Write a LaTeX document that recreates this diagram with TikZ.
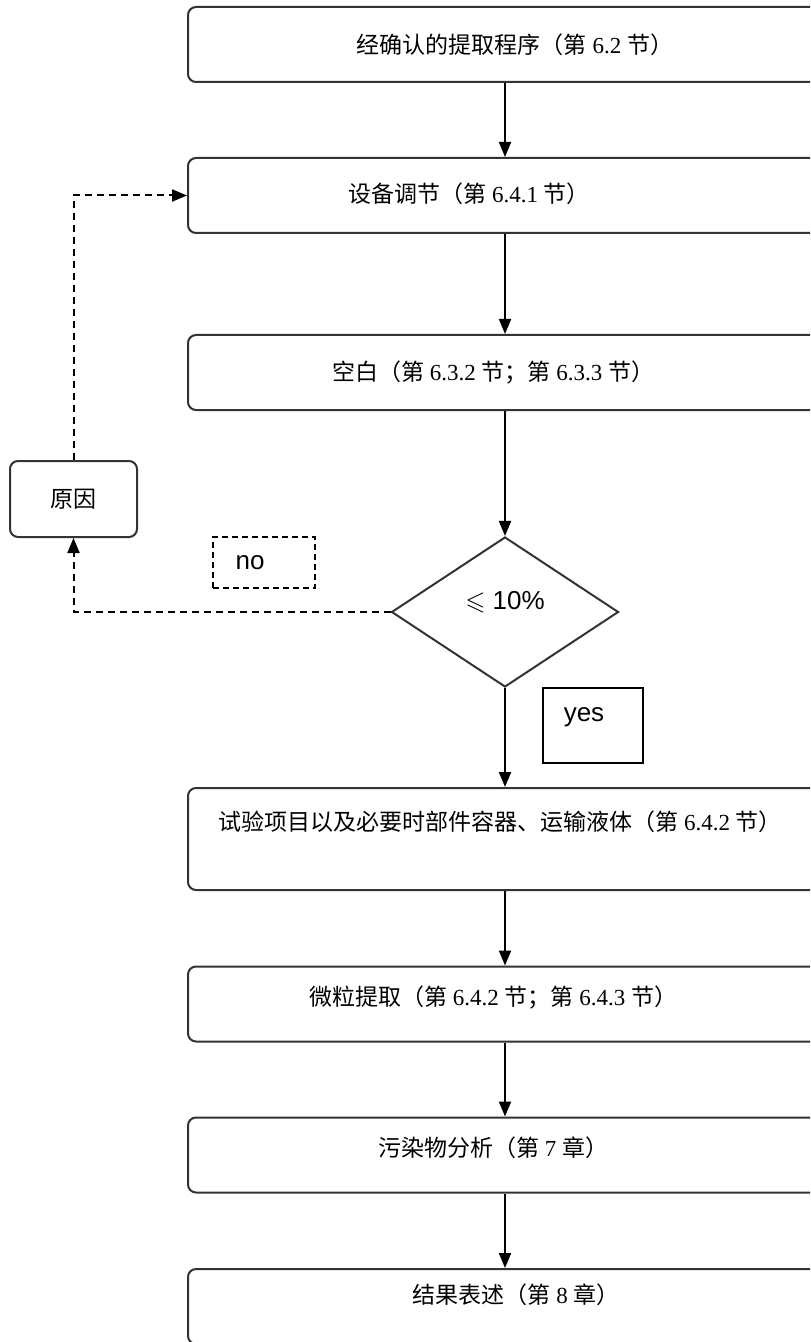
\documentclass[tikz,border=0pt]{standalone}
\usepackage{fontspec}
\setmainfont{Liberation Serif}
\newfontfamily\cjk{Noto Sans CJK SC}
\newfontfamily\arialfont{Liberation Sans}
\usepackage{amssymb}
\usetikzlibrary{shapes,arrows.meta,positioning}
\definecolor{linegray}{gray}{0.2}
\tikzset{%
    procbox/.style={%
        rectangle, rounded corners=4pt, draw=linegray, line width=1pt, minimum width=317pt, minimum height=37.5pt, inner sep=0pt
    },
    boxtext/.style={%
        font=\fontsize{11.5pt}{14pt}\selectfont
    },
    decision/.style={%
        diamond, aspect=1.5, draw=linegray, line width=1pt, minimum width=113.5pt, minimum height=75pt, inner sep=0pt
    },
    sanstext/.style={%
        font=\arialfont\fontsize{13pt}{15pt}\selectfont
    },
    cause/.style={%
        rectangle, rounded corners=4pt, draw=linegray, line width=1pt, minimum width=63.5pt, minimum height=38pt, font=\cjk\fontsize{11.5pt}{14pt}\selectfont
    },
    answer/.style={%
        rectangle, draw=black, line width=1.2pt, inner sep=0pt
    },
    flow/.style={%
        -{Triangle[length=7.5pt,width=6pt]}, draw=black, line width=1pt
    },
    back/.style={%
        flow, dash pattern=on 3.5pt off 2.5pt
    },
}

\begin{document}
\begin{tikzpicture}[x=0.5pt,y=-0.5pt]
      \useasboundingbox (0,0) rectangle (810,1342);
      \clip (0,0) rectangle (810,1342);
      % main column
      \node[procbox, label={[boxtext,xshift=5pt]center:{\cjk 经确认的提取程序（第} 6.2 {\cjk 节）}}] (b1) at (505,44.5) {};
      \node[procbox, label={[boxtext,xshift=-18pt,yshift=1pt]center:{\cjk 设备调节（第} 6.4.1 {\cjk 节）}}] (b2) at (505,195.5) {};
      \node[procbox, label={[boxtext,xshift=-6pt]center:{\cjk 空白（第} 6.3.2 {\cjk 节；第} 6.3.3 {\cjk 节）}}] (b3) at (505,372.5) {};
      \node[decision, label={[sanstext,yshift=5pt]center:{$\leqslant$ 10\%}}] (dia) at (505,612) {};
      \node[procbox, minimum height=51pt, label={[boxtext,xshift=-2.5pt,yshift=8.5pt]center:{\cjk 试验项目以及必要时部件容器、运输液体（第} 6.4.2 {\cjk 节）}}] (b4) at (505,839) {};
      \node[procbox, label={[boxtext,xshift=-6pt,yshift=3.5pt]center:{\cjk 微粒提取（第} 6.4.2 {\cjk 节；第} 6.4.3 {\cjk 节）}}] (b5) at (505,1004) {};
      \node[procbox, label={[boxtext,xshift=-6pt,yshift=3.5pt]center:{\cjk 污染物分析（第} 7 {\cjk 章）}}] (b6) at (505,1155) {};
      \node[procbox, label={[boxtext,xshift=5.5pt,yshift=6pt]center:{\cjk 结果表述（第} 8 {\cjk 章）}}] (b7) at (505,1306.5) {};
      % side branch
      \node[cause] (cause) at (73.5,499) {原因};
      \node[answer, dash pattern=on 3pt off 2pt, minimum width=51pt, minimum height=25.5pt, label={[sanstext,xshift=-7pt]center:no}] (no) at (264,562.5) {};
      \node[answer, minimum width=50pt, minimum height=37.5pt, label={[sanstext,xshift=-4.5pt,yshift=4pt]center:yes}] (yes) at (593,725.5) {};
      \draw[flow] (b1) -- (b2);
      \draw[flow] (b2) -- (b3);
      \draw[flow] (b3) -- (dia);
      \draw[flow] (dia) -- (b4);
      \draw[flow] (b4) -- (b5);
      \draw[flow] (b5) -- (b6);
      \draw[flow] (b6) -- (b7);
      \draw[back] (dia.west) -| (cause.south);
      \draw[back] (cause.north) |- (b2.west);
    \end{tikzpicture}
\end{document}
